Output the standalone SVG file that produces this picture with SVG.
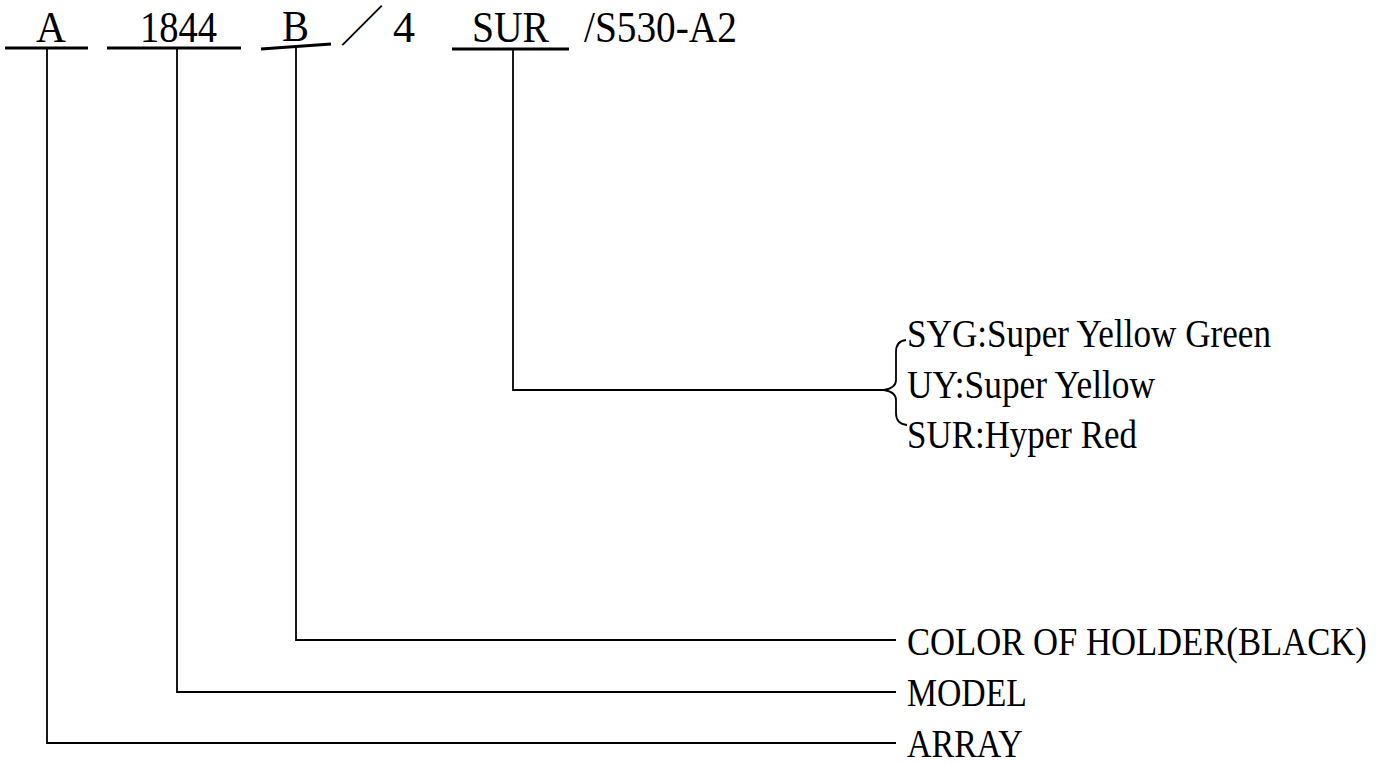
<svg xmlns="http://www.w3.org/2000/svg" width="1386" height="763" viewBox="0 0 1386 763">
<style>
  .t { font-family: "Liberation Serif", "Times New Roman", serif; fill: #000; }
  .title { font-size: 44px; }
  .lbl { font-size: 41px; }
  .cjk { font-family: "Noto Sans CJK SC", "Noto Sans CJK JP", sans-serif; font-weight: 300; font-size: 44px; fill: #000; }
  .ul { stroke: #000; stroke-width: 3.2; fill: none; }
  .ln { stroke: #000; stroke-width: 1.8; fill: none; }
</style>
<rect width="1386" height="763" fill="#fff"/>
<g id="connectors">
  <polyline class="ln" points="47,48 47,743 896,743"/>
  <polyline class="ln" points="177,48 177,692 896,692"/>
  <polyline class="ln" points="296,47 296,640 896,640"/>
  <polyline class="ln" points="513,49 513,390 884,390"/>
  <path class="ln" d="M906,340 Q896,341 896,352 L896,380 Q896,388 884,390 Q896,392 896,400 L896,413 Q896,424 907,425"/>
</g>
<g id="seg-A">
  <line class="ul" x1="5" y1="48" x2="88" y2="48"/>
  <text class="t title" transform="translate(36,42) scale(0.94,1)">A</text>
</g>
<g id="seg-1844">
  <line class="ul" x1="107" y1="48" x2="241" y2="48"/>
  <text class="t title" transform="translate(140,42) scale(0.875,1)">1844</text>
</g>
<g id="seg-B">
  <line class="ul" x1="261" y1="49" x2="331" y2="44"/>
  <text class="t title" transform="translate(282,41) scale(0.92,1)">B</text>
</g>
<g id="seg-slash4">
  <text class="cjk" x="340" y="42">／</text>
  <text class="t title" x="393" y="42">4</text>
</g>
<g id="seg-SUR">
  <line class="ul" x1="452" y1="49" x2="569" y2="49"/>
  <text class="t title" transform="translate(472,42) scale(0.9,1)">SUR</text>
</g>
<g id="seg-suffix">
  <text class="t title" transform="translate(584,42) scale(0.894,1)">/S530-A2</text>
</g>
<g id="opt-SYG">
  <text class="t lbl" transform="translate(907,347) scale(0.857,1)">SYG:Super Yellow Green</text>
</g>
<g id="opt-UY">
  <text class="t lbl" transform="translate(907,398) scale(0.862,1)">UY:Super Yellow</text>
</g>
<g id="opt-SUR">
  <text class="t lbl" transform="translate(907,448) scale(0.852,1)">SUR:Hyper Red</text>
</g>
<g id="label-color">
  <text class="t lbl" transform="translate(907,655) scale(0.845,1)">COLOR OF HOLDER(BLACK)</text>
</g>
<g id="label-model">
  <text class="t lbl" transform="translate(907,706) scale(0.823,1)">MODEL</text>
</g>
<g id="label-array">
  <text class="t lbl" transform="translate(907,757) scale(0.829,1)">ARRAY</text>
</g>
</svg>
